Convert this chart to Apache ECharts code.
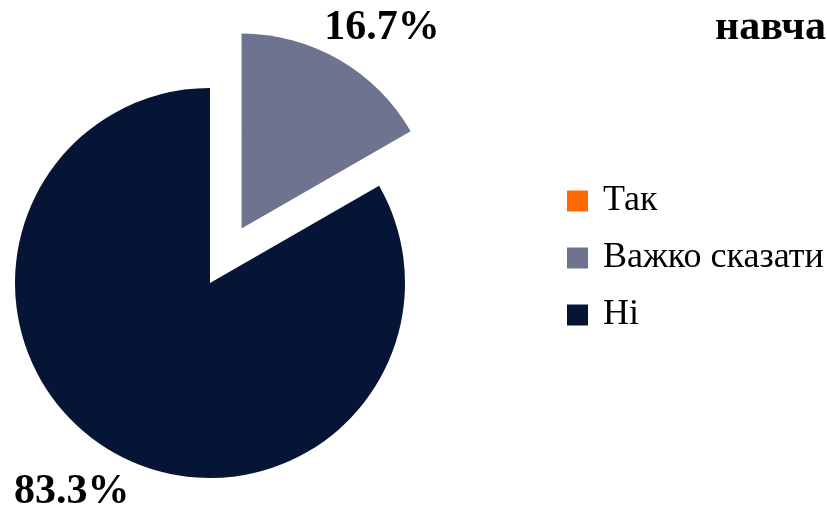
<!DOCTYPE html>
<html><head><meta charset="utf-8">
<script src="https://cdn.jsdelivr.net/npm/echarts@6/dist/echarts.min.js"></script>
<style>html,body{margin:0;padding:0;background:#fff}#c{width:827px;height:507px}</style>
</head><body><div id="c"></div>
<script>
const categories = ['Так', 'Важко сказати', 'Ні'];
const values = [0, 16.7, 83.3];
const colors = ['#FF6A00', '#6E738F', '#061435'];
const titleText = 'навчання';

const FONT = '"Liberation Serif", "Times New Roman", serif';
// label shifts from the default inside position
const labelOffsets = [[0, 0], [90, -113], [-88, 122]];
const chart = echarts.init(document.getElementById('c'), null, {renderer: 'canvas'});
chart.setOption({
  animation: false,
  textStyle: {fontFamily: FONT},
  title: {
    text: titleText, left: 715, top: 7, padding: 0,
    textStyle: {fontFamily: FONT, fontWeight: 'bold', fontSize: 42, color: '#000'}
  },
  legend: {
    orient: 'vertical', left: 567, top: 183, padding: 0,
    itemWidth: 21, itemHeight: 21, itemGap: 21,
    icon: 'rect',
    textStyle: {fontFamily: FONT, fontSize: 36, color: '#000', lineHeight: 36, padding: [0, 0, 0, 10]},
    data: categories
  },
  series: [{
    type: 'pie',
    center: [210, 283],
    radius: 195,
    startAngle: 90,
    clockwise: true,
    selectedMode: 'single',
    selectedOffset: 63,
    avoidLabelOverlap: false,
    labelLine: {show: false},
    label: {
      show: true, position: 'inside',
      formatter: '{c}%',
      fontFamily: FONT, fontWeight: 'bold', fontSize: 42, color: '#000'
    },
    emphasis: {disabled: true},
    itemStyle: {borderWidth: 0},
    data: categories.map((n, i) => ({
      name: n, value: values[i],
      selected: i === 1,
      itemStyle: {color: colors[i]},
      label: {show: values[i] > 0, offset: labelOffsets[i]},
      select: {label: {show: values[i] > 0, offset: labelOffsets[i]}}
    }))
  }]
});
</script>
</body></html>
